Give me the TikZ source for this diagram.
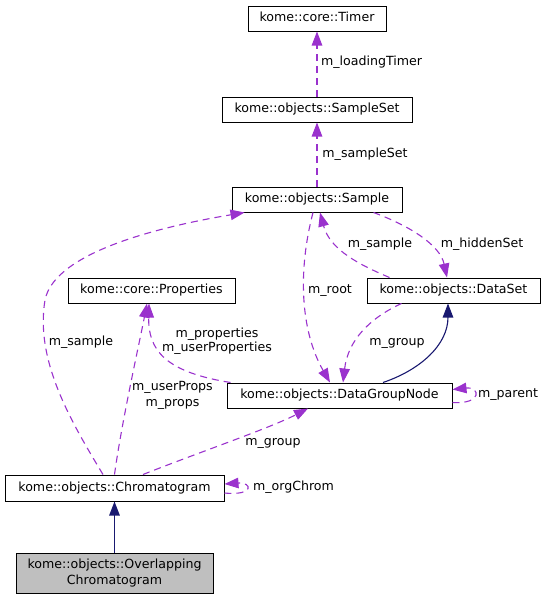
\documentclass[tikz,border=0pt]{standalone}
\usepackage{fontspec}
\setmainfont{DejaVu Sans}
\usetikzlibrary{arrows.meta,calc}
\definecolor{edgepurple}{HTML}{9A32CD}
\definecolor{inhnavy}{HTML}{191970}
\definecolor{boxgray}{HTML}{BFBFBF}
\begin{document}
\begin{tikzpicture}[x=1pt,y=-1pt,
  cls/.style={draw=black, line width=1pt, rectangle, inner sep=0pt, fill=white,
    font=\fontsize{12.6}{15}\selectfont, text height=9.2pt, text depth=2.8pt},
  lbl/.style={inner sep=0pt, font=\fontsize{12.6}{15}\selectfont, text height=9.2pt, text depth=2.8pt},
  lbltwo/.style={inner sep=0pt, align=center},
  use/.style={draw=edgepurple, line width=1.1pt, dash pattern=on 7pt off 5pt,
    -{Triangle[length=14pt,width=10.5pt]}},
  inh/.style={draw=inhnavy, line width=1.1pt, -{Triangle[length=14pt,width=10.5pt]}}]
\useasboundingbox (0,0) rectangle (548,600);

% classes
\node[cls, minimum width=138pt, minimum height=25pt] (timer) at (317,18.5) {kome::core::Timer};
\node[cls, minimum width=190pt, minimum height=25pt] (sampleset) at (317,109.5) {kome::objects::SampleSet};
\node[cls, minimum width=170pt, minimum height=25pt] (sample) at (317,199.5) {kome::objects::Sample};
\node[cls, minimum width=167pt, minimum height=25pt] (props) at (151.5,290.5) {kome::core::Properties};
\node[cls, minimum width=173pt, minimum height=25pt] (dataset) at (453.5,290.5) {kome::objects::DataSet};
\node[cls, minimum width=225pt, minimum height=25pt] (dgn) at (339.5,395.5) {kome::objects::DataGroupNode};
\node[cls, minimum width=219pt, minimum height=26pt] (chrom) at (114.5,488) {kome::objects::Chromatogram};
\node[draw=black, line width=1pt, rectangle, inner sep=0pt, fill=boxgray, align=center,
  font=\fontsize{12.6}{16}\selectfont, minimum width=197pt, minimum height=40pt] (overl) at (114.5,573)
  {kome::objects::Overlapping\\Chromatogram};

% usage edges
\draw[use] (sampleset.north) -- (timer.south);
\draw[use] (sample.north) -- (sampleset.south);
\draw[use] ($(chrom.north)+(-11.5,0)$) .. controls (70,420) and (35,360) .. (45,300)
  .. controls (55,250) and (170,225) .. ($(sample.south west)+(13,0)$);
\draw[use] (chrom.north) .. controls (122,420) and (140,340) .. ($(props.south)+(-4.5,0)$);
\draw[use] ($(dgn.north west)+(4,0)$) .. controls (165,372) and (148,350) .. ($(props.south)+(-2.5,0)$);
\draw[use] ($(sample.south)+(-4,0)$) .. controls (298,270) and (300,330) .. ($(dgn.north)+(-9.5,0)$);
\draw[use] ($(dataset.south west)+(35,0)$) .. controls (370,318) and (348,340) .. ($(dgn.north)+(3.5,0)$);
\draw[use] ($(dataset.north west)+(23,0)$) .. controls (360,265) and (330,250) .. ($(sample.south)+(3,0)$);
\draw[use] ($(sample.south east)+(-29,0)$) .. controls (410,226) and (440,245) .. ($(dataset.north)+(-6.5,0)$);
\draw[use] ($(chrom.north)+(28.5,0)$) .. controls (200,452) and (270,428) .. ($(dgn.south)+(-31.5,0)$);
\draw[use] ($(chrom.east)+(0,5)$) .. controls +(30,3) and +(28,-2) .. ($(chrom.east)+(0,-4)$);
\draw[use] ($(dgn.east)+(0,7)$) .. controls +(30,2) and +(28,-3) .. ($(dgn.east)+(0,-6)$);

% inheritance edges
\draw[inh] ($(dgn.north)+(43.5,0)$) .. controls (420,370) and (448,345) .. ($(dataset.south)+(-5.5,0)$);
\draw[inh] (overl.north) -- (chrom.south);

% labels
\node[lbl] (lt) at (371.5,62) {m\_loadingTimer};
\node[lbl] (lss) at (365,154) {m\_sampleSet};
\node[lbl] (lsl) at (81,342) {m\_sample};
\node[lbltwo, font=\fontsize{12.6}{16}\selectfont] (lup) at (172.5,395) {m\_userProps\\m\_props};
\node[lbltwo, font=\fontsize{12.6}{14}\selectfont] (lpr) at (217,341) {m\_properties\\m\_userProperties};
\node[lbl] (lroot) at (330,290) {m\_root};
\node[lbl] (lsr) at (380,244) {m\_sample};
\node[lbl] (lhs) at (482,244) {m\_hiddenSet};
\node[lbl] (lgr) at (397,342) {m\_group};
\node[lbl] (lpar) at (508,394) {m\_parent};
\node[lbl] (lgb) at (273,442) {m\_group};
\node[lbl] (loc) at (293.5,487) {m\_orgChrom};
\end{tikzpicture}
\end{document}
